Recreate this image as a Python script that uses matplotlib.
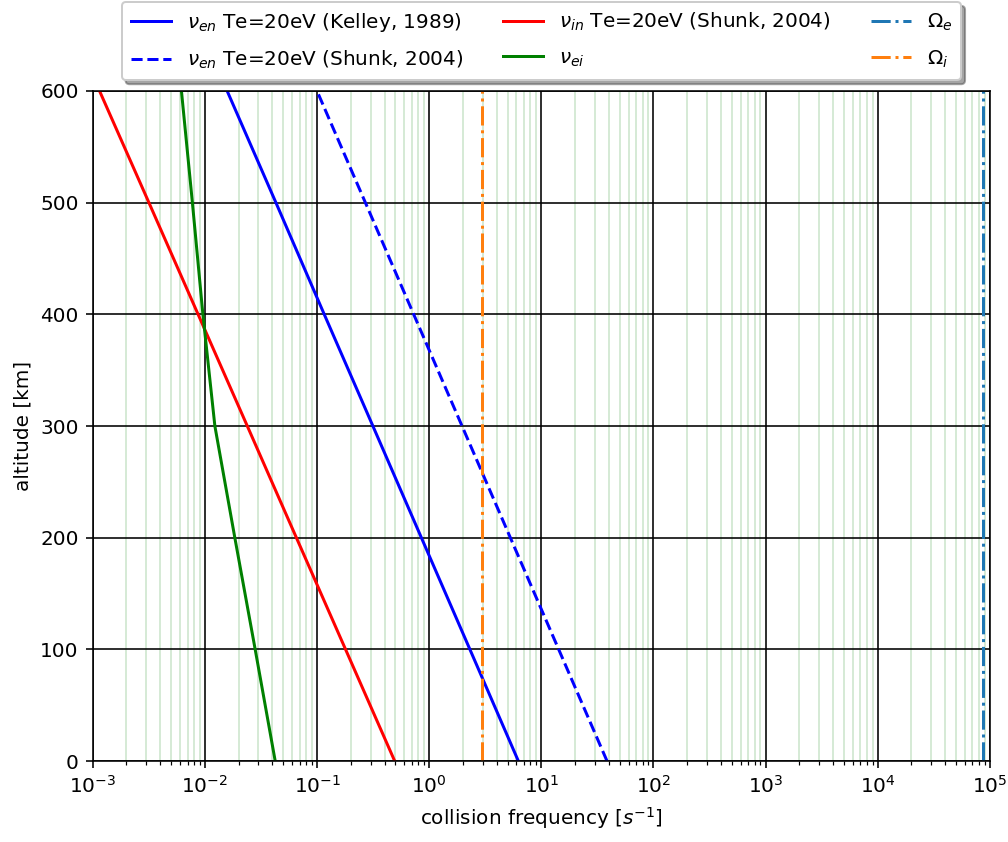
import numpy as np
import matplotlib
matplotlib.use('Agg')
import matplotlib.pyplot as plt

# altitude grid [km] and collision frequencies [1/s]
altitude = np.array([0, 100, 200, 300, 400, 500, 600])
nu_en_kelley = np.array([6.25, 2.31, 0.853, 0.315, 0.116, 0.0430, 0.0158])
nu_en_shunk = np.array([38.6, 14.3, 5.30, 1.965, 0.728, 0.270, 0.100])
nu_in_shunk = np.array([0.4935, 0.1798, 0.0655, 0.0239, 0.0087, 0.00317, 0.00115])
nu_ei = np.array([0.0424, 0.0281, 0.0185, 0.01228, 0.0096, 0.00774, 0.00618])

# gyro frequencies [1/s]
omega_e = 8.7e4
omega_i = 2.97


def plot_collisions(output_file):
    fig, ax = plt.subplots(figsize=(7.0, 842 / 144), dpi=144)
    fig.subplots_adjust(left=0.092, right=0.982, bottom=0.096, top=0.892)

    ax.plot(nu_en_kelley, altitude, 'b-', label=r'$\nu_{en}$ Te=20eV (Kelley, 1989)')
    ax.plot(nu_en_shunk, altitude, 'b--', label=r'$\nu_{en}$ Te=20eV (Shunk, 2004)')
    ax.plot(nu_in_shunk, altitude, 'r-', label=r'$\nu_{in}$ Te=20eV (Shunk, 2004)')
    ax.plot(nu_ei, altitude, 'g-', label=r'$\nu_{ei}$')
    ax.axvline(omega_e, color='C0', linestyle='-.', label=r'$\Omega_e$')
    ax.axvline(omega_i, color='C1', linestyle='-.', label=r'$\Omega_i$')

    ax.set_xscale('log')
    ax.set_xlim(1e-3, 1e5)
    ax.set_ylim(0, 600)
    ax.set_xlabel(r'collision frequency [$s^{-1}$]')
    ax.set_ylabel('altitude [km]')

    ax.grid(which='major', color='k', linestyle='-', linewidth=0.8)
    ax.grid(which='minor', color='g', linestyle='-', alpha=0.2)
    ax.set_axisbelow(True)

    ax.legend(loc='lower center', bbox_to_anchor=(0.5, 1.016), borderaxespad=0,
              ncol=3, shadow=True, labelspacing=0.75, borderpad=0.45)

    fig.savefig(output_file)
    plt.close(fig)


if __name__ == "__main__":
    plot_collisions('out.png')
